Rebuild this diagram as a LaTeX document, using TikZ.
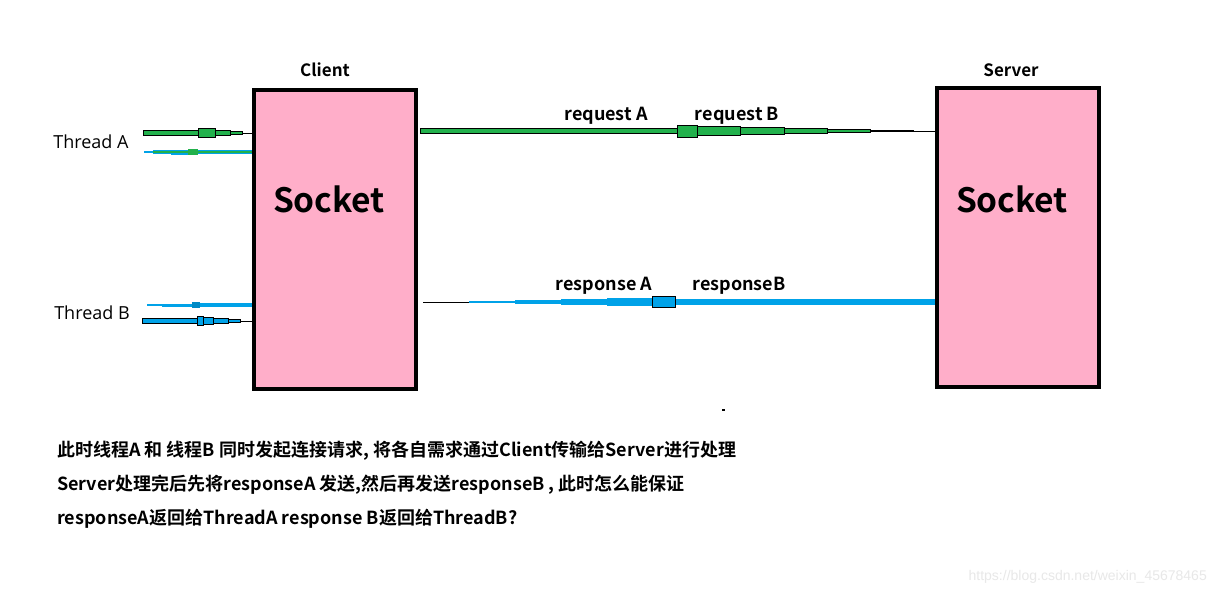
\documentclass[tikz,border=0pt]{standalone}
\usepackage{fontspec}
\setmainfont{Noto Sans CJK SC}
\newfontfamily\thr{Open Sans}
\newfontfamily\cjkb{Noto Sans CJK SC}[BoldFont={* Bold}]
\definecolor{boxpink}{RGB}{255,174,201}
\definecolor{pgreen}{RGB}{34,177,76}
\definecolor{pblue}{RGB}{0,162,232}
\newcommand\brush[5]{\fill[#5] (#1,{#3-#4/2}) rectangle (#2,{#3+#4/2});}
\newcommand\obrush[5]{\filldraw[#5,draw=black,line width=0.6pt] (#1,{#3-#4/2}) rectangle (#2,{#3+#4/2});}
\begin{document}
\begin{tikzpicture}[x=1pt,y=-1pt,
  box/.style={draw=black,line width=4pt,fill=boxpink,minimum width=162pt,minimum height=299pt,inner sep=0pt},
  title/.style={font=\cjkb\bfseries\fontsize{17}{17}\selectfont},
  sock/.style={font=\cjkb\bfseries\fontsize{33.5}{33.5}\selectfont},
  lbl/.style={font=\cjkb\bfseries\fontsize{18}{18}\selectfont},
  thr/.style={font=\thr\fontsize{18}{18}\selectfont},
  note/.style={font=\cjkb\bfseries\fontsize{18}{18}\selectfont,anchor=west,inner sep=0pt},
  thin/.style={draw=black,line width=1pt}]
\useasboundingbox (0,0) rectangle (1217,594);
\fill[white] (0,0) rectangle (1217,594);
% boxes
\node[box] (client) at (335,239.5) {};
\node[box] (server) at (1018,237) {};
\node[sock] (csock) at (329,199) {Socket};
\node[sock] (ssock) at (1012,199) {Socket};
\node[title] (ctitle) at (325,70) {Client};
\node[title] (stitle) at (1011,70) {Server};
% thread labels
\node[thr] (ta) at (91,142) {Thread A};
\node[thr] (tb) at (92,313) {Thread B};
% connector anchor coordinates
\coordinate (reqend) at (server.west |- 0,131);
\coordinate (respend) at (server.west |- 0,302);
\coordinate (taend) at (client.west |- 0,133);
\coordinate (tbend) at (client.west |- 0,321);
% request line
\draw[thin] (913,131) -- (reqend);
\obrush{420}{677}{131}{5}{pgreen}
\obrush{870}{913}{131}{1.5}{pgreen}
\obrush{827}{870}{131}{3}{pgreen}
\obrush{784}{827}{131}{5}{pgreen}
\obrush{740}{784}{131}{7}{pgreen}
\obrush{697}{740}{131}{9}{pgreen}
\obrush{677}{697}{131}{12}{pgreen}
% response line
\draw[thin] (423,302) -- (469,302);
\brush{469}{515}{302}{2.5}{pblue}
\brush{515}{561}{302}{4}{pblue}
\brush{561}{607}{302}{6}{pblue}
\brush{607}{652}{302}{8}{pblue}
\brush{675}{935}{302}{6}{pblue}
\obrush{652}{675}{302}{11}{pblue}
\node[lbl] (reqA) at (606,116) {request A};
\node[lbl] (reqB) at (737,116) {request B};
\node[lbl] (resA) at (604,286) {response A};
\node[lbl] (resB) at (739,286) {responseB};
% thread A arrows
\draw[thin] (242,133) -- (taend);
\obrush{143}{198}{133}{5.5}{pgreen}
\obrush{230}{242}{133}{2.5}{pgreen}
\obrush{215}{230}{133}{4.5}{pgreen}
\obrush{198}{215}{133}{8.5}{pgreen}
\brush{144}{252}{152}{1.5}{pblue}
\brush{153}{252}{152}{4}{pblue}
\brush{171}{197}{152}{5}{pblue}
\brush{153}{252}{152}{2.5}{pgreen}
\brush{188}{198}{152}{6}{pgreen}
% thread B arrows
\brush{147}{162}{305}{1.5}{pblue}
\brush{162}{192}{305}{3}{pblue}
\brush{200}{252}{305}{4}{pblue}
\brush{192}{200}{305}{6.5}{pblue!85!black}
\draw[thin] (240,321) -- (tbend);
\obrush{142}{197}{321}{5.5}{pblue}
\obrush{228}{240}{321}{2.5}{pblue}
\obrush{213}{228}{321}{4.5}{pblue}
\obrush{203}{213}{321}{7}{pblue}
\obrush{197}{203}{321}{8.5}{pblue}
% note
\node[note] (n1) at (57,451) {此时线程A 和 线程B 同时发起连接请求, 将各自需求通过Client传输给Server进行处理};
\node[note] (n2) at (57,485) {Server处理完后先将responseA 发送,然后再发送responseB , 此时怎么能保证};
\node[note] (n3) at (57,519) {responseA返回给ThreadA response B返回给ThreadB?};
\fill[black] (722,409) rectangle (725,411);
\node[font=\fontspec{Liberation Sans}\fontsize{14}{14}\selectfont,text=black!9,anchor=east,inner sep=0pt] (wm) at (1207,577) {https://blog.csdn.net/weixin\_45678465};
\end{tikzpicture}
\end{document}
